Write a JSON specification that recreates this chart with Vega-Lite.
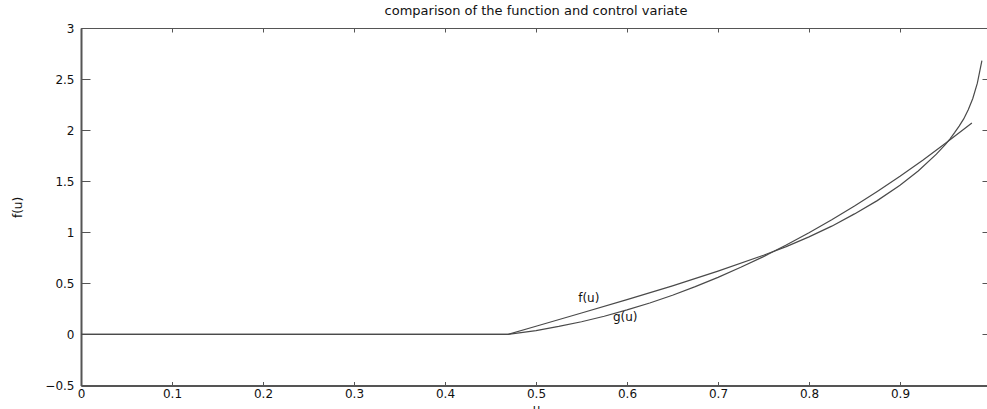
{
  "$schema": "https://vega.github.io/schema/vega-lite/v6.json",
  "width": 910,
  "height": 357.5,
  "autosize": "none",
  "padding": {"left": 81, "top": 28, "right": 0, "bottom": 24},
  "background": "white",
  "config": {
    "view": {"stroke": null},
    "font": "DejaVu Sans",
    "axis": {"grid": false, "labelFlush": false, "domainColor": "#555", "tickColor": "#555", "labelColor": "#111", "titleColor": "#111", "labelFont": "DejaVu Sans", "titleFont": "DejaVu Sans", "titleFontWeight": "normal", "labelFontSize": 12, "titleFontSize": 12}
  },
  "title": {"text": "comparison of the function and control variate", "fontSize": 13, "fontWeight": "normal", "font": "DejaVu Sans", "color": "#111", "offset": 4},
  "datasets": {
    "curves": [
      {"u": 0, "v": 0, "s": "f"},
      {"u": 0.469, "v": 0, "s": "f"},
      {"u": 0.5, "v": 0.08, "s": "f"},
      {"u": 0.55, "v": 0.21, "s": "f"},
      {"u": 0.6, "v": 0.34, "s": "f"},
      {"u": 0.65, "v": 0.475, "s": "f"},
      {"u": 0.7, "v": 0.62, "s": "f"},
      {"u": 0.75, "v": 0.775, "s": "f"},
      {"u": 0.775, "v": 0.86, "s": "f"},
      {"u": 0.8, "v": 0.955, "s": "f"},
      {"u": 0.825, "v": 1.06, "s": "f"},
      {"u": 0.85, "v": 1.18, "s": "f"},
      {"u": 0.875, "v": 1.31, "s": "f"},
      {"u": 0.9, "v": 1.46, "s": "f"},
      {"u": 0.92, "v": 1.6, "s": "f"},
      {"u": 0.94, "v": 1.765, "s": "f"},
      {"u": 0.95, "v": 1.86, "s": "f"},
      {"u": 0.955, "v": 1.915, "s": "f"},
      {"u": 0.96, "v": 1.975, "s": "f"},
      {"u": 0.965, "v": 2.04, "s": "f"},
      {"u": 0.97, "v": 2.11, "s": "f"},
      {"u": 0.975, "v": 2.2, "s": "f"},
      {"u": 0.98, "v": 2.31, "s": "f"},
      {"u": 0.985, "v": 2.46, "s": "f"},
      {"u": 0.99, "v": 2.68, "s": "f"},
      {"u": 0, "v": 0, "s": "g"},
      {"u": 0.469, "v": 0, "s": "g"},
      {"u": 0.5, "v": 0.038, "s": "g"},
      {"u": 0.525, "v": 0.078, "s": "g"},
      {"u": 0.55, "v": 0.124, "s": "g"},
      {"u": 0.575, "v": 0.178, "s": "g"},
      {"u": 0.6, "v": 0.24, "s": "g"},
      {"u": 0.625, "v": 0.308, "s": "g"},
      {"u": 0.65, "v": 0.384, "s": "g"},
      {"u": 0.675, "v": 0.468, "s": "g"},
      {"u": 0.7, "v": 0.559, "s": "g"},
      {"u": 0.725, "v": 0.657, "s": "g"},
      {"u": 0.75, "v": 0.762, "s": "g"},
      {"u": 0.775, "v": 0.875, "s": "g"},
      {"u": 0.8, "v": 0.995, "s": "g"},
      {"u": 0.825, "v": 1.122, "s": "g"},
      {"u": 0.85, "v": 1.257, "s": "g"},
      {"u": 0.875, "v": 1.400, "s": "g"},
      {"u": 0.9, "v": 1.549, "s": "g"},
      {"u": 0.925, "v": 1.706, "s": "g"},
      {"u": 0.95, "v": 1.871, "s": "g"},
      {"u": 0.979, "v": 2.07, "s": "g"}
    ],
    "labels": [
      {"u": 0.558, "v": 0.356, "t": "f(u)"},
      {"u": 0.598, "v": 0.17, "t": "g(u)"}
    ]
  },
  "layer": [
    {
      "data": {"name": "curves"},
      "mark": {"type": "line", "color": "#4a4a4a", "strokeWidth": 1.2, "clip": false},
      "encoding": {
        "x": {"field": "u", "type": "quantitative", "scale": {"domain": [0, 1], "nice": false, "zero": false},
              "axis": {"orient": "bottom", "title": "u", "values": [0, 0.1, 0.2, 0.3, 0.4, 0.5, 0.6, 0.7, 0.8, 0.9, 1], "format": "~g", "tickSize": -4, "labelPadding": 7, "domainWidth": 2, "titleX": 455, "titleY": 18, "titleBaseline": "top"}},
        "y": {"field": "v", "type": "quantitative", "scale": {"domain": [-0.5, 3], "nice": false, "zero": false},
              "axis": {"orient": "left", "title": "f(u)", "values": [-0.5, 0, 0.5, 1, 1.5, 2, 2.5, 3], "format": "~g", "tickSize": -9, "labelPadding": 16, "domainWidth": 2, "titleX": -64, "titleY": 179, "titleAngle": -90, "titleBaseline": "middle", "titleAlign": "center"}},
        "detail": {"field": "s", "type": "nominal"}
      }
    },
    {
      "data": {"name": "curves"},
      "mark": {"type": "line", "opacity": 0},
      "encoding": {
        "x": {"field": "u", "type": "quantitative", "scale": {"domain": [0, 1], "nice": false, "zero": false},
              "axis": {"orient": "top", "title": null, "labels": false, "values": [0, 0.1, 0.2, 0.3, 0.4, 0.5, 0.6, 0.7, 0.8, 0.9, 1], "tickSize": -4, "domainWidth": 1}},
        "y": {"field": "v", "type": "quantitative", "scale": {"domain": [-0.5, 3], "nice": false, "zero": false},
              "axis": {"orient": "right", "title": null, "labels": false, "values": [-0.5, 0, 0.5, 1, 1.5, 2, 2.5, 3], "tickSize": -9, "domainWidth": 1}},
        "detail": {"field": "s", "type": "nominal"}
      }
    },
    {
      "data": {"name": "labels"},
      "mark": {"type": "text", "fontSize": 12, "font": "DejaVu Sans", "color": "#111"},
      "encoding": {
        "x": {"field": "u", "type": "quantitative", "axis": null},
        "y": {"field": "v", "type": "quantitative", "axis": null},
        "text": {"field": "t"}
      }
    }
  ],
  "resolve": {"axis": {"x": "independent", "y": "independent"}}
}
